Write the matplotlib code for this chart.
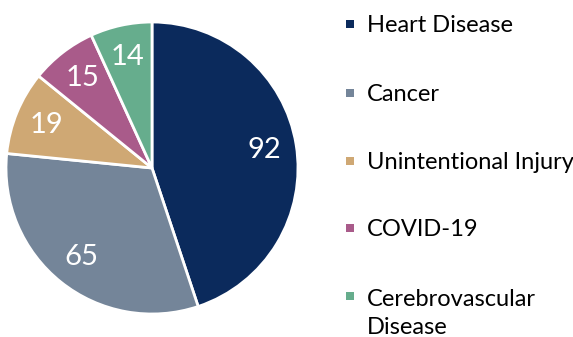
import matplotlib
matplotlib.use("Agg")
import matplotlib.pyplot as plt
from matplotlib.patches import Rectangle

categories = ["Heart Disease", "Cancer", "Unintentional Injury", "COVID-19",
              "Cerebrovascular\nDisease"]
values = [92, 65, 19, 15, 14]
colors = ["#0b2a5c", "#748599", "#cfa874", "#a95b8a", "#66ad8d"]

plt.rcParams["font.family"] = ["Lato", "DejaVu Sans"]

W, H = 573, 337
fig = plt.figure(figsize=(W / 100, H / 100), dpi=100)

cx, cy, r = 152, 168, 146
ax = fig.add_axes([(cx - r) / W, (H - cy - r) / H, 2 * r / W, 2 * r / H])
wedges, texts = ax.pie(
    values,
    labels=[str(v) for v in values],
    colors=colors,
    startangle=90,
    counterclock=False,
    radius=1.0,
    labeldistance=0.78,
    wedgeprops=dict(edgecolor="white", linewidth=2.0),
    textprops=dict(color="white", fontsize=21, ha="center", va="center"),
)
ax.set_xlim(-1, 1)
ax.set_ylim(-1, 1)
ax.set_aspect("equal")
ax.axis("off")

# legend: square marker beside the first line of each label (pixels from top)
first_baselines = [32, 101, 169, 236, 304]
line_gap = 30
for lab, col, yb in zip(categories, colors, first_baselines):
    n_extra = lab.count("\n")
    fig.patches.append(Rectangle((346 / W, (H - yb + 4) / H), 8 / W, 8 / H,
                                 transform=fig.transFigure, facecolor=col,
                                 edgecolor="none"))
    fig.text(367 / W, (H - yb - n_extra * line_gap) / H, lab, fontsize=17,
             color="black", ha="left", va="baseline", linespacing=1.44)

fig.savefig("out.png", dpi=100)
